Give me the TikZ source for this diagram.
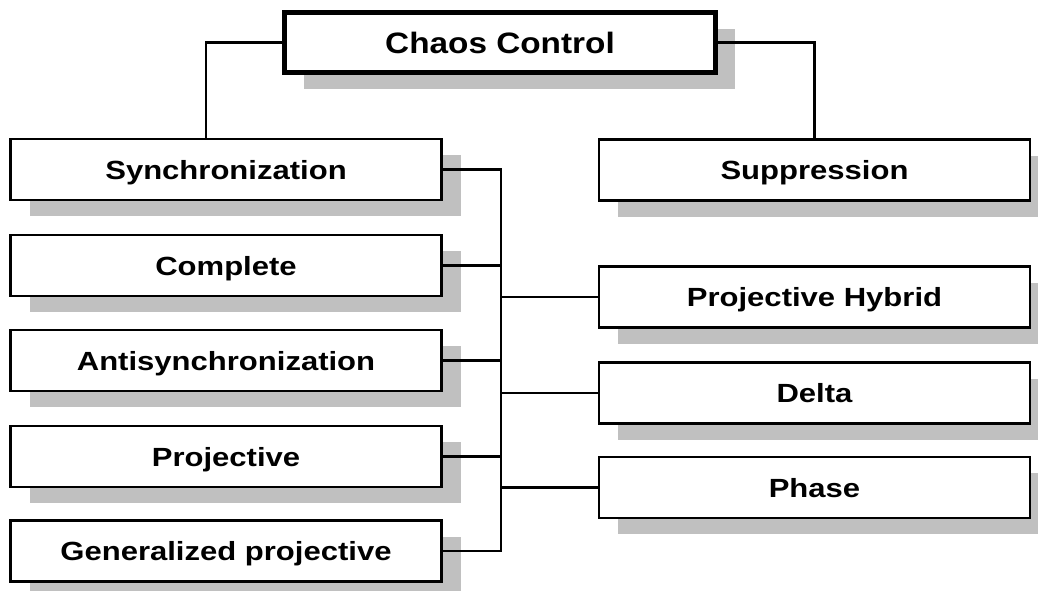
\documentclass[tikz,border=0pt]{standalone}
\usepackage{fontspec}
\setmainfont{Liberation Sans}
\newfontfamily\boxfont[FakeStretch=1.18]{Liberation Sans}
\newfontfamily\rootfont[FakeStretch=1.13]{Liberation Sans}
\usetikzlibrary{shadows}
\definecolor{shade}{RGB}{192,192,192}
\begin{document}
\begin{tikzpicture}[x=1pt,y=-1pt,
  item/.style={draw, line width=2.5pt, fill=white, minimum width=431pt, minimum height=61pt,
    inner sep=0pt, text height=19pt, text depth=0pt,
    font=\boxfont\fontsize{26.3}{32}\selectfont\bfseries,
    general shadow={fill=shade, shadow xshift=19pt, shadow yshift=-16pt}},
  root/.style={item, line width=5pt, minimum width=431pt, minimum height=60pt,
    text height=21pt, font=\rootfont\fontsize{29.5}{35}\selectfont\bfseries},
  link/.style={line width=2.3pt}]
\useasboundingbox (0,0) rectangle (1038,590);
% top level
\node[root] (chaos) at (500,42.5) {Chaos Control};
% left column
\node[item] (sync) at (226,169.5) {Synchronization};
\node[item] (comp) at (226,265.5) {Complete};
\node[item] (anti) at (226,360.5) {Antisynchronization};
\node[item] (proj) at (226,456.5) {Projective};
\node[item] (gen)  at (226,551)   {Generalized projective};
% right column
\node[item] (supp)  at (814.5,170)   {Suppression};
\node[item] (hyb)   at (814.5,297)   {Projective Hybrid};
\node[item] (delta) at (814.5,393)   {Delta};
\node[item] (phase) at (814.5,487.5) {Phase};
% branch points
\coordinate (lt) at (206,0);
\coordinate (bus) at (501,0);
% connectors from the root
\draw[link] (chaos.west) -| (lt |- sync.north);
\draw[link] (chaos.east) -| (supp.north);
% vertical bus joining the synchronization types
\draw[link] (sync.east) -- (sync.east -| bus) -- (gen.east -| bus) -- (gen.east);
\foreach \n in {comp,anti,proj}
  \draw[link] (\n.east) -- (\n.east -| bus);
\foreach \n in {hyb,delta,phase}
  \draw[link] (\n.west) -- (\n.west -| bus);
\end{tikzpicture}
\end{document}
